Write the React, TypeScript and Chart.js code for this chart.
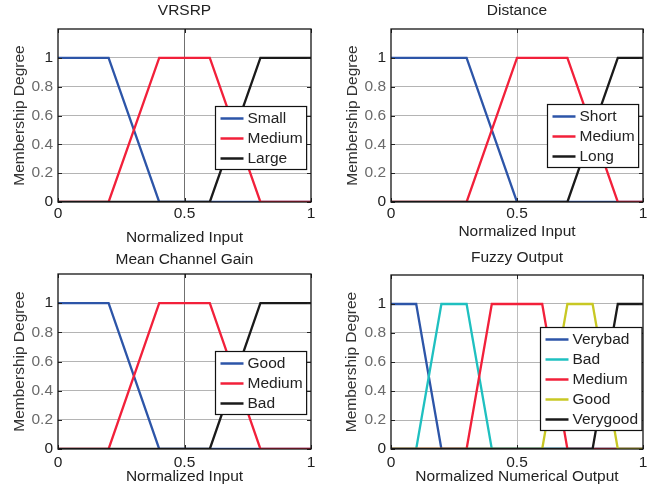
import React, { useEffect, useRef } from "react";
import { Chart, registerables } from "chart.js";

Chart.register(...registerables);

const FONT = '"Liberation Sans", Arial, Helvetica, sans-serif';
const FS = 15.5;

// ---- ticks ----
const xTicks = [0, 0.5, 1];
const yTicks = [0, 0.2, 0.4, 0.6, 0.8, 1];
const yMax = 1.2;

// ---- colors ----
const BLUE = "#2d55a8";
const RED = "#f2203a";
const BLACK = "#1a1a1a";
const CYAN = "#1fc0c0";
const OLIVE = "#c8c824";

// ---- VRSRP ----
const vrsrpSmallX = [0, 0.2, 0.4, 1];
const vrsrpSmallY = [1, 1, 0, 0];
const vrsrpMediumX = [0, 0.2, 0.4, 0.6, 0.8, 1];
const vrsrpMediumY = [0, 0, 1, 1, 0, 0];
const vrsrpLargeX = [0, 0.6, 0.8, 1];
const vrsrpLargeY = [0, 0, 1, 1];

// ---- Distance ----
const distShortX = [0, 0.3, 0.5, 1];
const distShortY = [1, 1, 0, 0];
const distMediumX = [0, 0.3, 0.5, 0.7, 0.9, 1];
const distMediumY = [0, 0, 1, 1, 0, 0];
const distLongX = [0, 0.7, 0.9, 1];
const distLongY = [0, 0, 1, 1];

// ---- Mean Channel Gain ----
const gainGoodX = [0, 0.2, 0.4, 1];
const gainGoodY = [1, 1, 0, 0];
const gainMediumX = [0, 0.2, 0.4, 0.6, 0.8, 1];
const gainMediumY = [0, 0, 1, 1, 0, 0];
const gainBadX = [0, 0.6, 0.8, 1];
const gainBadY = [0, 0, 1, 1];

// ---- Fuzzy Output ----
const outVerybadX = [0, 0.1, 0.2, 1];
const outVerybadY = [1, 1, 0, 0];
const outBadX = [0, 0.1, 0.2, 0.3, 0.4, 1];
const outBadY = [0, 0, 1, 1, 0, 0];
const outMediumX = [0, 0.3, 0.4, 0.6, 0.7, 1];
const outMediumY = [0, 0, 1, 1, 0, 0];
const outGoodX = [0, 0.6, 0.7, 0.8, 0.9, 1];
const outGoodY = [0, 0, 1, 1, 0, 0];
const outVerygoodX = [0, 0.8, 0.9, 1];
const outVerygoodY = [0, 0, 1, 1];

type Series = { label: string; color: string; xs: number[]; ys: number[] };

type PanelDef = {
  title: string;
  xTitle: string;
  series: Series[];
  box: { left: number; top: number; w: number; h: number };
  yAxisW: number;
  xAxisH: number;
  padRight: number;
  titleTop: number;
  titleBottom: number;
  xTickPad: number;
  xTitleBottom: number;
  yTitleLeft: number;
  vGrid: string;
  legendRight: number;
  legendBottom: number;
};

const panels: PanelDef[] = [
  {
    title: "VRSRP",
    xTitle: "Normalized Input",
    series: [
      { label: "Small", color: BLUE, xs: vrsrpSmallX, ys: vrsrpSmallY },
      { label: "Medium", color: RED, xs: vrsrpMediumX, ys: vrsrpMediumY },
      { label: "Large", color: BLACK, xs: vrsrpLargeX, ys: vrsrpLargeY },
    ],
    box: { left: 0, top: 0, w: 331, h: 252 },
    yAxisW: 58,
    xAxisH: 50,
    padRight: 20,
    titleTop: 1.7,
    titleBottom: 8.7,
    xTickPad: 2,
    xTitleBottom: 6.25,
    yTitleLeft: 12.25,
    vGrid: "#707070",
    legendRight: 5,
    legendBottom: 33,
  },
  {
    title: "Distance",
    xTitle: "Normalized Input",
    series: [
      { label: "Short", color: BLUE, xs: distShortX, ys: distShortY },
      { label: "Medium", color: RED, xs: distMediumX, ys: distMediumY },
      { label: "Long", color: BLACK, xs: distLongX, ys: distLongY },
    ],
    box: { left: 331, top: 0, w: 331, h: 252 },
    yAxisW: 60,
    xAxisH: 50,
    padRight: 19,
    titleTop: 1.7,
    titleBottom: 8.7,
    xTickPad: 2,
    xTitleBottom: 12.25,
    yTitleLeft: 14,
    vGrid: "#bdbdbd",
    legendRight: 5,
    legendBottom: 35,
  },
  {
    title: "Mean Channel Gain",
    xTitle: "Normalized Input",
    series: [
      { label: "Good", color: BLUE, xs: gainGoodX, ys: gainGoodY },
      { label: "Medium", color: RED, xs: gainMediumX, ys: gainMediumY },
      { label: "Bad", color: BLACK, xs: gainBadX, ys: gainBadY },
    ],
    box: { left: 0, top: 245, w: 331, h: 246 },
    yAxisW: 58,
    xAxisH: 42,
    padRight: 20,
    titleTop: 5.7,
    titleBottom: 4.7,
    xTickPad: 4,
    xTitleBottom: 6.25,
    yTitleLeft: 12.25,
    vGrid: "#707070",
    legendRight: 5,
    legendBottom: 35,
  },
  {
    title: "Fuzzy Output",
    xTitle: "Normalized Numerical Output",
    series: [
      { label: "Verybad", color: BLUE, xs: outVerybadX, ys: outVerybadY },
      { label: "Bad", color: CYAN, xs: outBadX, ys: outBadY },
      { label: "Medium", color: RED, xs: outMediumX, ys: outMediumY },
      { label: "Good", color: OLIVE, xs: outGoodX, ys: outGoodY },
      { label: "Verygood", color: BLACK, xs: outVerygoodX, ys: outVerygoodY },
    ],
    box: { left: 331, top: 245, w: 331, h: 246 },
    yAxisW: 60,
    xAxisH: 42,
    padRight: 19,
    titleTop: 3.7,
    titleBottom: 7.7,
    xTickPad: 4,
    xTitleBottom: 6.25,
    yTitleLeft: 13.25,
    vGrid: "#bdbdbd",
    legendRight: 2,
    legendBottom: 19,
  },
];

const framePlugin = {
  id: "matlabFrame",
  afterDatasetsDraw(chart: any, _args: any, opts: any) {
    const { ctx, chartArea: ca, scales } = chart;
    const xs = scales.x;
    const ys = scales.y;
    ctx.save();
    // inward tick marks
    ctx.strokeStyle = "#222";
    ctx.lineWidth = 1;
    ctx.beginPath();
    for (const v of yTicks) {
      const py = Math.round(ys.getPixelForValue(v)) + 0.5;
      ctx.moveTo(ca.left, py);
      ctx.lineTo(ca.left + 4, py);
      ctx.moveTo(ca.right, py);
      ctx.lineTo(ca.right - 4, py);
    }
    for (const v of xTicks) {
      const px = Math.round(xs.getPixelForValue(v)) + 0.5;
      ctx.moveTo(px, ca.bottom);
      ctx.lineTo(px, ca.bottom - 4);
      ctx.moveTo(px, ca.top);
      ctx.lineTo(px, ca.top + 4);
    }
    ctx.stroke();
    // box
    ctx.strokeStyle = "#151515";
    ctx.lineWidth = 1.3;
    ctx.strokeRect(ca.left, ca.top, ca.right - ca.left, ca.bottom - ca.top);

    // legend
    const ds = chart.data.datasets;
    const n = ds.length;
    ctx.font = `${FS}px ${FONT}`;
    let tw = 0;
    for (const d of ds) tw = Math.max(tw, ctx.measureText(d.label).width);
    const w = 5 + 23 + 4 + tw + 4;
    const h = 20 * n + 3;
    const right = ca.right - opts.right;
    const bottom = ca.bottom - opts.bottom;
    const left = Math.round(right - w) + 0.5;
    const top = Math.round(bottom - h) + 0.5;
    ctx.fillStyle = "#ffffff";
    ctx.fillRect(left, top, w, h);
    ctx.strokeStyle = "#111";
    ctx.lineWidth = 1.2;
    ctx.strokeRect(left, top, w, h);
    ds.forEach((d: any, i: number) => {
      const yy = top + 12 + 20 * i;
      ctx.strokeStyle = d.borderColor;
      ctx.lineWidth = 2.5;
      ctx.beginPath();
      ctx.moveTo(left + 5, yy);
      ctx.lineTo(left + 28, yy);
      ctx.stroke();
      ctx.fillStyle = "#222";
      ctx.textBaseline = "middle";
      ctx.textAlign = "left";
      ctx.fillText(d.label, left + 32, yy + 0.5);
    });
    ctx.restore();
  },
};

function Panel({ p }: { p: PanelDef }) {
  const ref = useRef<HTMLCanvasElement | null>(null);
  useEffect(() => {
    if (!ref.current) return;
    const n = p.series.length;
    const chart = new Chart(ref.current, {
      type: "scatter",
      data: {
        datasets: p.series.map((s, i) => ({
          label: s.label,
          data: s.xs.map((x, k) => ({ x, y: s.ys[k] })),
          showLine: true,
          borderColor: s.color,
          backgroundColor: s.color,
          borderWidth: 2.3,
          pointRadius: 0,
          pointHoverRadius: 0,
          tension: 0,
          fill: false,
          order: n - 1 - i,
        })),
      },
      options: {
        animation: false,
        responsive: false,
        maintainAspectRatio: false,
        events: [],
        layout: { padding: { left: 0, right: p.padRight, top: 0, bottom: 0 } },
        plugins: {
          legend: { display: false },
          tooltip: { enabled: false },
          title: {
            display: true,
            text: p.title,
            fullSize: false,
            color: "#222",
            font: { family: FONT, size: FS, weight: "normal", lineHeight: 1.2 },
            padding: { top: p.titleTop, bottom: p.titleBottom },
          },
          matlabFrame: { right: p.legendRight, bottom: p.legendBottom },
        } as any,
        scales: {
          x: {
            type: "linear",
            min: 0,
            max: 1,
            afterBuildTicks: (s: any) => {
              s.ticks = xTicks.map((v) => ({ value: v }));
            },
            afterFit: (s: any) => {
              s.height = p.xAxisH;
            },
            border: { display: false },
            grid: {
              drawTicks: false,
              lineWidth: 1,
              color: (c: any) =>
                c.tick && (c.tick.value === 0 || c.tick.value === 1) ? "rgba(0,0,0,0)" : p.vGrid,
            },
            ticks: {
              padding: p.xTickPad,
              color: "#222",
              maxRotation: 0,
              autoSkip: false,
              font: { family: FONT, size: FS },
              callback: (v: any) => String(v),
            },
            title: {
              display: true,
              text: p.xTitle,
              color: "#222",
              font: { family: FONT, size: FS, lineHeight: 1 },
              padding: { top: 0, bottom: p.xTitleBottom },
            },
          },
          y: {
            type: "linear",
            min: 0,
            max: yMax,
            afterBuildTicks: (s: any) => {
              s.ticks = [...yTicks, yMax].map((v) => ({ value: v }));
            },
            afterFit: (s: any) => {
              s.width = p.yAxisW;
            },
            border: { display: false },
            grid: {
              drawTicks: false,
              lineWidth: 1,
              color: (c: any) =>
                c.tick && (c.tick.value === 0 || c.tick.value === yMax) ? "rgba(0,0,0,0)" : "#b4b4b4",
            },
            ticks: {
              padding: 5,
              autoSkip: false,
              font: { family: FONT, size: FS },
              color: (c: any) =>
                c.tick && (c.tick.value === 0 || c.tick.value === 1) ? "#222" : "#6a6a6a",
              callback: (v: any) => (v === yMax ? "" : String(v)),
            },
            title: {
              display: true,
              text: "Membership Degree",
              color: "#333",
              font: { family: FONT, size: FS, lineHeight: 1 },
              padding: { top: p.yTitleLeft, bottom: 0 },
            },
          },
        },
      },
      plugins: [framePlugin],
    } as any);
    return () => chart.destroy();
  }, [p]);
  return (
    <canvas
      ref={ref}
      width={p.box.w}
      height={p.box.h}
      style={{
        position: "absolute",
        left: p.box.left,
        top: p.box.top,
        width: p.box.w,
        height: p.box.h,
      }}
    />
  );
}

export default function App() {
  return (
    <div
      style={{
        position: "absolute",
        left: 0,
        top: 0,
        width: 662,
        height: 491,
        background: "#ffffff",
        overflow: "hidden",
      }}
    >
      {panels.map((p, i) => (
        <Panel key={i} p={p} />
      ))}
    </div>
  );
}
